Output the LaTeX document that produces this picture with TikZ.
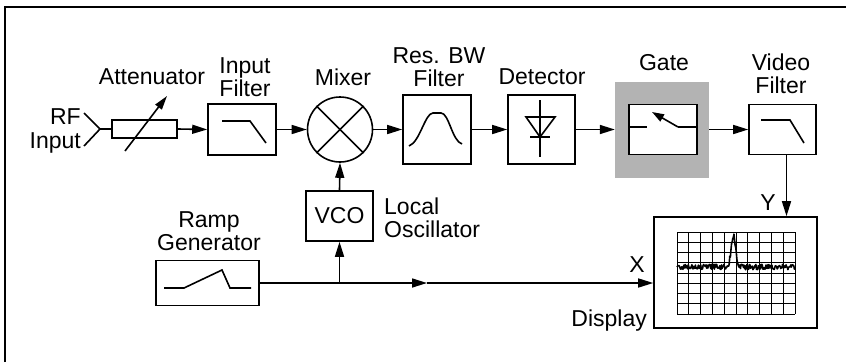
\documentclass[tikz,border=0pt]{standalone}
\usepackage{fontspec}
\setmainfont{Liberation Sans}
\usetikzlibrary{arrows.meta,calc}
\definecolor{gatebg}{RGB}{179,179,179}
\begin{document}
\begin{tikzpicture}[x=1pt,y=-1pt,
  lw/.style={line width=1.6pt},
  box/.style={draw,lw,rectangle,inner sep=0pt},
  lbl/.style={font=\fontsize{23}{23.5}\selectfont,inner sep=0pt,align=center},
  lblL/.style={font=\fontsize{23}{23.5}\selectfont,inner sep=0pt,align=left},
  lblR/.style={font=\fontsize{23}{23.5}\selectfont,inner sep=0pt,align=right},
  arr/.style={lw,-{Triangle[length=15pt,width=9pt]}},
  sym/.style={line width=1.6pt},
  gridl/.style={line width=0.9pt},
  trace/.style={line width=1.6pt,line join=round},
]
\useasboundingbox (0,0) rectangle (846,362);
\draw[lw] (5,362) -- (5,7) -- (846,7);

% blocks
\node[box,minimum width=65pt,minimum height=18pt] (att) at (144.5,129) {};
\node[box,minimum width=68pt,minimum height=51pt] (inf) at (242,129.5) {};
\node[draw,lw,circle,minimum size=65pt,inner sep=0pt] (mix) at (340,129.5) {};
\node[box,minimum width=68pt,minimum height=69pt] (rbw) at (437,129.5) {};
\node[box,minimum width=67pt,minimum height=69pt] (det) at (541.5,129.5) {};
\node[rectangle,fill=gatebg,minimum width=94pt,minimum height=96pt,inner sep=0pt] (gatebox) at (662,129.5) {};
\node[box,fill=white,minimum width=68pt,minimum height=50pt] (gate) at (663,129.5) {};
\node[box,minimum width=67pt,minimum height=50pt] (vf) at (782.5,129.5) {};
\node[box,minimum width=67pt,minimum height=50pt,font=\fontsize{23}{23.5}\selectfont] (vco) at (339.5,216) {VCO};
\node[box,minimum width=103pt,minimum height=45pt] (ramp) at (207.5,283) {};
\node[box,minimum width=163pt,minimum height=111pt] (disp) at (735.5,272.5) {};

% labels
\node[lblR,anchor=east] (lrf) at (81,131) {RF\\Input};
\node[lbl] (latt) at (152,77) {Attenuator};
\node[lbl] (linf) at (245,77) {Input\\Filter};
\node[lbl] (lmix) at (343,77) {Mixer};
\node[lbl] (lrbw) at (439,67) {Res. BW\\Filter};
\node[lbl] (ldet) at (542,77) {Detector};
\node[lbl] (lgate) at (664,63) {Gate};
\node[lbl] (lvf) at (781,74) {Video\\Filter};
\node[lblL,anchor=west] (llo) at (384,218) {Local\\Oscillator};
\node[lbl] (lramp) at (209,231) {Ramp\\Generator};
\node[lbl] (lx) at (637,265) {X};
\node[lbl] (ly) at (768,203) {Y};
\node[lblR,anchor=east] (ldisp) at (647,321) {Display};

% RF input
\coordinate (rfa) at (84,113);
\coordinate (rfb) at (84,146);
\coordinate (rft) at (100,129);
\draw[lw] (rfa) -- (rft) -- (rfb);
\draw[lw] (rft) -- (att.west);

% attenuator variable arrow
\coordinate (va) at (125,151);
\coordinate (vb) at (167,96);
\draw[lw,-{Triangle[length=14pt,width=8pt]}] (va) -- (vb);

% chain arrows
\draw[arr] (att.east) -- (inf.west);
\draw[arr] (inf.east) -- (mix.west);
\draw[arr] (mix.east) -- (rbw.west);
\draw[arr] (rbw.east) -- (det.west);
\draw[arr] (det.east) -- (gatebox.west);
\draw[arr] (gatebox.east) -- (vf.west);
\draw[arr] ([xshift=4pt]vf.south) -- ([xshift=4pt]vf.south |- disp.north);
\draw[arr] (vco.north) -- (mix.south);

% ramp line
\coordinate (jn) at (vco.south |- ramp.east);
\coordinate (mid) at (427,283);
\draw[arr] (ramp.east) -- (mid);
\draw[arr] (mid) -- (mid -| disp.west);
\draw[arr] (jn) -- (vco.south);

% mixer cross
\draw[sym] (mix.north west) -- (mix.south east);
\draw[sym] (mix.north east) -- (mix.south west);

% input filter lowpass
\draw[sym] (222,121) -- (250,121) -- (266,143);
% video filter lowpass
\draw[sym] (761,120) -- (790,120) -- (804,143);

% bell curve
\draw[sym] (409,146) .. controls (420,142) and (425,113) .. (433,113)
  -- (441,113) .. controls (449,113) and (452,141) .. (462,144);

% diode
\draw[sym] (540,100) -- (540,157);
\draw[sym,line join=miter] (526,117) -- (555,117) -- (540,137) -- cycle;
\draw[sym] (530,137) -- (550,137);

% gate switch
\draw[sym] (629,127) -- (647,127);
\draw[sym] (678,127) -- (697,127);
\draw[lw,-{Triangle[length=12pt,width=8pt]}] (678,127) -- (652,112);

% ramp symbol
\draw[sym] (164,288) -- (184,288) -- (222,270) -- (230,288) -- (251,288);

% display grid
\foreach \i in {0,...,10} {
  \draw[gridl] ({677+\i*11.8},232) -- ({677+\i*11.8},314);
}
\foreach \j in {0,...,8} {
  \draw[gridl] (677,{232+\j*10.25}) -- (795,{232+\j*10.25});
}
\pgfmathsetseed{11}
\draw[trace] plot[domain=677:795,samples=200,variable=\x]
  (\x,{267-31*exp(-min(((\x-733.5)/3.2)^2,20))+2.8*rand});
\end{tikzpicture}
\end{document}
